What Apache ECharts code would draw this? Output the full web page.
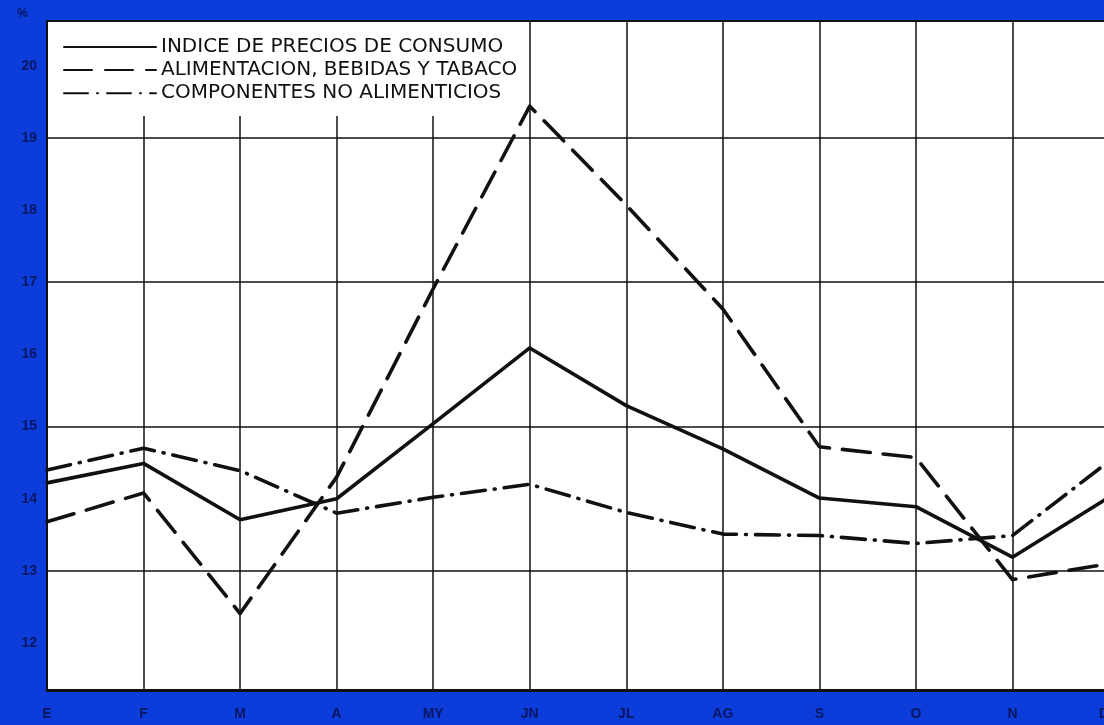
<!DOCTYPE html>
<html>
<head>
<meta charset="utf-8">
<script src="https://cdn.jsdelivr.net/npm/echarts@6/dist/echarts.min.js"></script>
<style>
html,body{margin:0;padding:0;background:#0c3cd9;}
#c{width:1104px;height:725px;}
</style>
</head>
<body>
<div id="c"></div>
<script>
const categories = ['E','F','M','A','MY','JN','JL','AG','S','O','N','D'];
const ipc = [14.22, 14.49, 13.71, 14.00, 15.04, 16.09, 15.29, 14.69, 14.01, 13.89, 13.19, 14.02];
const food = [13.68, 14.08, 12.41, 14.30, 16.91, 19.44, 18.07, 16.63, 14.72, 14.57, 12.88, 13.10];
const nonfood = [14.40, 14.70, 14.39, 13.80, 14.02, 14.20, 13.81, 13.51, 13.49, 13.38, 13.49, 14.52];
const yTickLabels = [12, 13, 14, 15, 16, 17, 18, 19, 20];
const gridValues = [13, 15, 17, 19];
const seriesNames = ['INDICE DE PRECIOS DE CONSUMO', 'ALIMENTACION, BEBIDAS Y TABACO', 'COMPONENTES NO ALIMENTICIOS'];

const chart = echarts.init(document.getElementById('c'));
const labelColor = '#0a1660';
const lineCommon = { color: '#111', width: 3.6, cap: 'round', join: 'round' };
chart.setOption({
  backgroundColor: '#0c3cd9',
  animation: false,
  color: ['#111', '#111', '#111'],
  grid: { left: 47, right: -5, top: 21, bottom: 35, show: true, backgroundColor: '#fff', borderColor: '#111', borderWidth: 2,
          containLabel: false, outerBoundsMode: 'none' },
  graphic: [
    { type: 'rect', z: 1, shape: { x: 49, y: 22, width: 476, height: 94 }, style: { fill: '#fff' } },
    { type: 'text', left: 17, top: 8, style: { text: '%', fill: labelColor, font: 'bold 12px "Liberation Sans", Arial, sans-serif' } }
  ],
  legend: {
    orient: 'vertical', left: 63, top: 37, padding: 0,
    itemWidth: 92, itemHeight: 18, itemGap: 3.1,
    itemStyle: { opacity: 0 },
    textStyle: { fontFamily: '"DejaVu Sans", sans-serif', fontSize: 20, color: '#111', lineHeight: 18 },
    data: seriesNames
  },
  xAxis: {
    type: 'category', data: categories, boundaryGap: false,
    axisLine: { lineStyle: { color: '#111', width: 3 } },
    axisTick: { show: false },
    axisLabel: { margin: 17, showMaxLabel: true, alignMaxLabel: 'right', hideOverlap: false, color: labelColor, fontWeight: 'bold', fontSize: 14, fontFamily: '"Liberation Sans", Arial, sans-serif' },
    splitLine: { show: true, lineStyle: { color: '#111', width: 1.5 } }
  },
  yAxis: {
    type: 'value', min: 11.35, max: 20.62,
    axisLine: { show: true, lineStyle: { color: '#111', width: 2 } },
    axisTick: { show: false },
    splitLine: { show: false },
    axisLabel: { customValues: yTickLabels, margin: 10, color: labelColor, fontWeight: 'bold', fontSize: 14, fontFamily: '"Liberation Sans", Arial, sans-serif' }
  },
  series: [
    { name: seriesNames[0], type: 'line', data: ipc, symbol: 'none', lineStyle: Object.assign({}, lineCommon, { type: 'solid' }),
      markLine: { silent: true, symbol: 'none', label: { show: false }, lineStyle: { color: '#111', width: 1.5, type: 'solid' },
        data: gridValues.map(v => ({ yAxis: v })) } },
    { name: seriesNames[1], type: 'line', data: food, symbol: 'none', lineStyle: Object.assign({}, lineCommon, { type: [28, 13] }) },
    { name: seriesNames[2], type: 'line', data: nonfood, symbol: 'none', lineStyle: Object.assign({}, lineCommon, { type: [24, 9, 1, 9] }) }
  ]
});
</script>
</body>
</html>
